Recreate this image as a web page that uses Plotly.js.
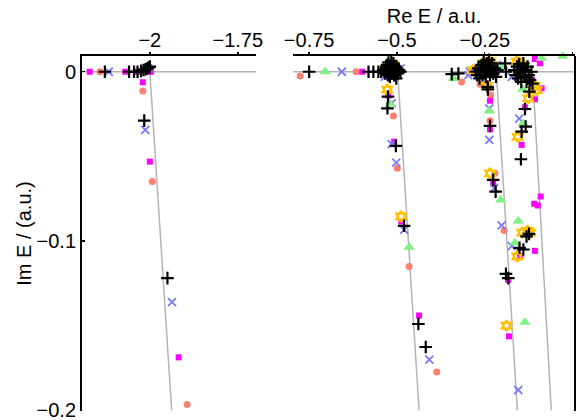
<!DOCTYPE html>
<html>
<head>
<meta charset="utf-8">
<script src="https://cdn.plot.ly/plotly-3.0.1.min.js"></script>
<style>html,body{margin:0;padding:0;background:#fff;}#chart{width:578px;height:420px;}</style>
</head>
<body>
<div id="chart"></div>
<script>
// ---- tick labels ----
const xTicksLeft = [-2, -1.75];
const xTicksRight = [-0.75, -0.5, -0.25, 0];
const yTicks = [0, -0.1, -0.2];

// ---- rotated continuum lines (Re E, Im E) ----
const contY = [0, -0.2];
const contLeftX = [-2.0, -1.938];
const cont1X = [-0.498, -0.437];
const cont2X = [-0.217, -0.157];
const cont3X = [-0.114, -0.0605];

// ---- series: salmon circles ----
const circX = [-2.142, -1.997, -2.020, -1.993, -1.894,
  -0.7756, -0.6163, -0.510, -0.499, -0.4655, -0.3867,
  -0.316, -0.2635, -0.233, -0.235, -0.221, -0.195, -0.490];
const circY = [0, 0, -0.0114, -0.0649, -0.1966,
  -0.0025, 0, -0.0261, -0.057, -0.115, -0.1773,
  -0.006, -0.0074, -0.0137, -0.029, -0.060, -0.0938, 0.001];

// ---- series: magenta squares ----
const sqX = [-2.171, -2.070, -2.035, -1.998, -2.020, -2.000, -1.918,
  -0.599, -0.525, -0.508, -0.4874, -0.437,
  -0.2825, -0.216, -0.235, -0.235, -0.226,
  -0.107, -0.093, -0.152, -0.115, -0.088, -0.107, -0.1355, -0.145,
  -0.0908, -0.109, -0.099, -0.107, -0.149, -0.183, -0.181];
const sqY = [0, 0, 0, 0, -0.0062, -0.0531, -0.1687,
  0, -0.0141, -0.0413, -0.0885, -0.144,
  0.001, 0, -0.0171, -0.034, -0.066,
  0.0075, 0.005, -0.002, -0.005, -0.0098, -0.0163, -0.021, -0.0432,
  -0.0737, -0.078, -0.079, -0.1058, -0.1095, -0.123, -0.1563];

// ---- series: blue crosses (x) ----
const xsX = [-2.117, -2.005, -2.013, -1.937,
  -0.657, -0.535, -0.490, -0.515, -0.515, -0.502, -0.4797, -0.4078,
  -0.297, -0.292, -0.215, -0.237, -0.237, -0.223, -0.202,
  -0.173, -0.173, -0.152, -0.1545];
const xsY = [0, 0.002, -0.0344, -0.1361,
  0, -0.003, 0.002, -0.0186, -0.0428, -0.0537, -0.0934, -0.170,
  -0.002, 0, 0.004, -0.0216, -0.0403, -0.0688, -0.0908,
  -0.003, -0.103, -0.0277, -0.188];

// ---- series: green triangles ----
const triX = [-0.7045, -0.520, -0.4655,
  -0.339, -0.200, -0.197, -0.088, -0.028, -0.237, -0.142, -0.1404,
  -0.2046, -0.1545, -0.164, -0.1355, -0.130];
const triY = [0, -0.019, -0.1036,
  -0.004, 0.003, 0.003, 0.008, 0.0092, -0.0232, -0.0104, -0.0305,
  -0.0757, -0.0881, -0.101, -0.148, -0.094];

// ---- series: gold stars ----
const starX = [-0.5274, -0.530, -0.510, -0.4883,
  -0.283, -0.254, -0.235, -0.230, -0.244, -0.235,
  -0.159, -0.151, -0.107, -0.102, -0.126, -0.156,
  -0.143, -0.128, -0.121, -0.157, -0.188];
const starY = [-0.0105, 0.002, 0.004, -0.0855,
  0.001, 0.005, 0.006, 0.004, -0.0084, -0.060,
  0.006, 0.005, -0.0084, -0.0108, -0.0157, -0.0385,
  -0.095, -0.094, -0.095, -0.109, -0.150];

// ---- series: black plus ----
const plusX = [-2.128, -2.059, -2.045, -2.035, -2.025, -2.018, -2.012, -2.007, -2.003, -2.000,
  -2.016, -1.950,
  -0.750, -0.581, -0.567, -0.553, -0.545,
  -0.538, -0.534, -0.531, -0.528, -0.526, -0.524, -0.522, -0.520, -0.518, -0.516,
  -0.514, -0.512, -0.510, -0.508, -0.506, -0.504, -0.502, -0.500, -0.497, -0.494, -0.490,
  -0.5255, -0.527, -0.503, -0.4797, -0.439, -0.418,
  -0.344, -0.325,
  -0.276, -0.272, -0.268, -0.265, -0.262, -0.259, -0.256, -0.253, -0.250, -0.247,
  -0.244, -0.241, -0.238, -0.235, -0.232, -0.229, -0.226, -0.222, -0.218, -0.214,
  -0.2416, -0.241, -0.235, -0.226, -0.219, -0.1896, -0.183,
  -0.192, -0.1896, -0.157,
  -0.166, -0.162, -0.158, -0.155, -0.152, -0.149, -0.146, -0.143, -0.140, -0.137,
  -0.134, -0.131, -0.128, -0.125, -0.121, -0.117, -0.114,
  -0.123, -0.1355, -0.1335, -0.145, -0.147, -0.131, -0.124, -0.151, -0.140];
const plusY = [0, 0, 0, 0, 0.0005, 0.001, 0.0015, 0.002, 0.0025, 0.003,
  -0.0289, -0.1219,
  0, 0, 0, 0, 0,
  0.001, -0.001, 0.002, 0.004, -0.002, 0.0055, 0.001, -0.003, 0.003, 0.0065,
  -0.001, 0.002, 0.005, -0.002, 0.003, 0.0005, -0.004, 0.002, -0.001, 0.001, 0,
  -0.0147, -0.0216, -0.0438, -0.091, -0.149, -0.1626,
  -0.0014, -0.001,
  0, -0.002, 0.002, -0.004, 0.001, 0.004, -0.002, 0.006, 0.002, -0.003,
  0.005, 0, 0.007, -0.002, 0.003, 0.005, -0.001, 0.002, -0.003, 0.001,
  -0.0089, -0.0104, -0.032, -0.0639, -0.0708, -0.1194, -0.1219,
  0.005, 0, 0.0094,
  0.001, -0.002, 0.003, -0.004, 0.0045, 0, -0.006, 0.002, 0.005, -0.003,
  0.001, -0.006, 0.003, -0.002, -0.005, 0, -0.007,
  -0.0118, -0.022, -0.0324, -0.0354, -0.0517, -0.0973, -0.0958, -0.104, -0.105];

// ---- build traces ----
const traces = [];
function lineTrace(xs, ax) {
  traces.push({x: xs, y: contY, xaxis: ax, yaxis: 'y', mode: 'lines',
    line: {color: '#b4b4b4', width: 1.5}, hoverinfo: 'skip'});
}
lineTrace(contLeftX, 'x');
lineTrace(cont1X, 'x2');
lineTrace(cont2X, 'x2');
lineTrace(cont3X, 'x2');

function addSeries(xs, ys, marker) {
  const lx = [], ly = [], rx = [], ry = [];
  xs.forEach((v, i) => { if (v < -1) { lx.push(v); ly.push(ys[i]); } else { rx.push(v); ry.push(ys[i]); } });
  [[lx, ly, 'x'], [rx, ry, 'x2']].forEach(([a, b, ax]) => {
    if (a.length) traces.push({x: a, y: b, xaxis: ax, yaxis: 'y', mode: 'markers',
      marker: marker, cliponaxis: false, hoverinfo: 'skip'});
  });
}
addSeries(circX, circY, {symbol: 'circle', size: 7, color: '#fa8072', line: {width: 0}});
addSeries(sqX, sqY, {symbol: 'square', size: 6, color: '#ff00ff', line: {width: 0}});
addSeries(xsX, xsY, {symbol: 'x-thin-open', size: 8, color: '#7b7bf5', line: {width: 1.8, color: '#7b7bf5'}});
addSeries(triX, triY, {symbol: 'triangle-up', size: 10, color: '#80f080', line: {width: 0}});
addSeries(starX, starY, {symbol: 'hexagram-open', size: 8, color: '#ffc000', line: {width: 2.5, color: '#ffc000'}});
addSeries(plusX, plusY, {symbol: 'cross-thin-open', size: 9, color: '#000000', line: {width: 2.2, color: '#000000'}});

const axisCommon = {
  showline: true, linecolor: '#000', linewidth: 2, mirror: false,
  ticks: 'outside', ticklen: 2, tickwidth: 1.5, tickcolor: '#000',
  showgrid: false, zeroline: false, side: 'top', anchor: 'y',
  ticklabelstandoff: -3
};

const layout = {
  width: 578, height: 420,
  margin: {l: 82, r: 3, t: 56, b: 9},
  paper_bgcolor: '#fff', plot_bgcolor: '#fff',
  font: {family: 'Liberation Sans, Arial, sans-serif', size: 20, color: '#000'},
  showlegend: false,
  xaxis: Object.assign({}, axisCommon, {domain: [0, 0.353], range: [-2.193, -1.698], tickvals: xTicksLeft}),
  xaxis2: Object.assign({}, axisCommon, {domain: [0.428, 1], range: [-0.796, 0.007], tickvals: xTicksRight,
    title: {text: 'Re E / a.u.', font: {size: 20}, standoff: 0}}),
  yaxis: {domain: [0, 1], range: [-0.2004, 0.0093], anchor: 'x', tickvals: yTicks,
    showline: true, linecolor: '#000', linewidth: 2, ticks: 'inside', ticklen: 3, tickwidth: 1.5, tickcolor: '#000',
    ticklabeloverflow: 'allow',
    showgrid: false, zeroline: false, title: {text: 'Im E / (a.u.)', font: {size: 20}}},
  shapes: [
    {type: 'line', layer: 'below', xref: 'x domain', yref: 'y', x0: 0, x1: 1, y0: 0, y1: 0, line: {color: '#b4b4b4', width: 1.5}},
    {type: 'line', layer: 'below', xref: 'x2 domain', yref: 'y', x0: 0, x1: 1, y0: 0, y1: 0, line: {color: '#b4b4b4', width: 1.5}},
    {type: 'line', layer: 'above', xref: 'x2 domain', yref: 'y domain', x0: 1, x1: 1, y0: 0, y1: 1, line: {color: '#000', width: 2}}
  ]
};

Plotly.newPlot('chart', traces, layout, {staticPlot: true, displayModeBar: false});
</script>
</body>
</html>
